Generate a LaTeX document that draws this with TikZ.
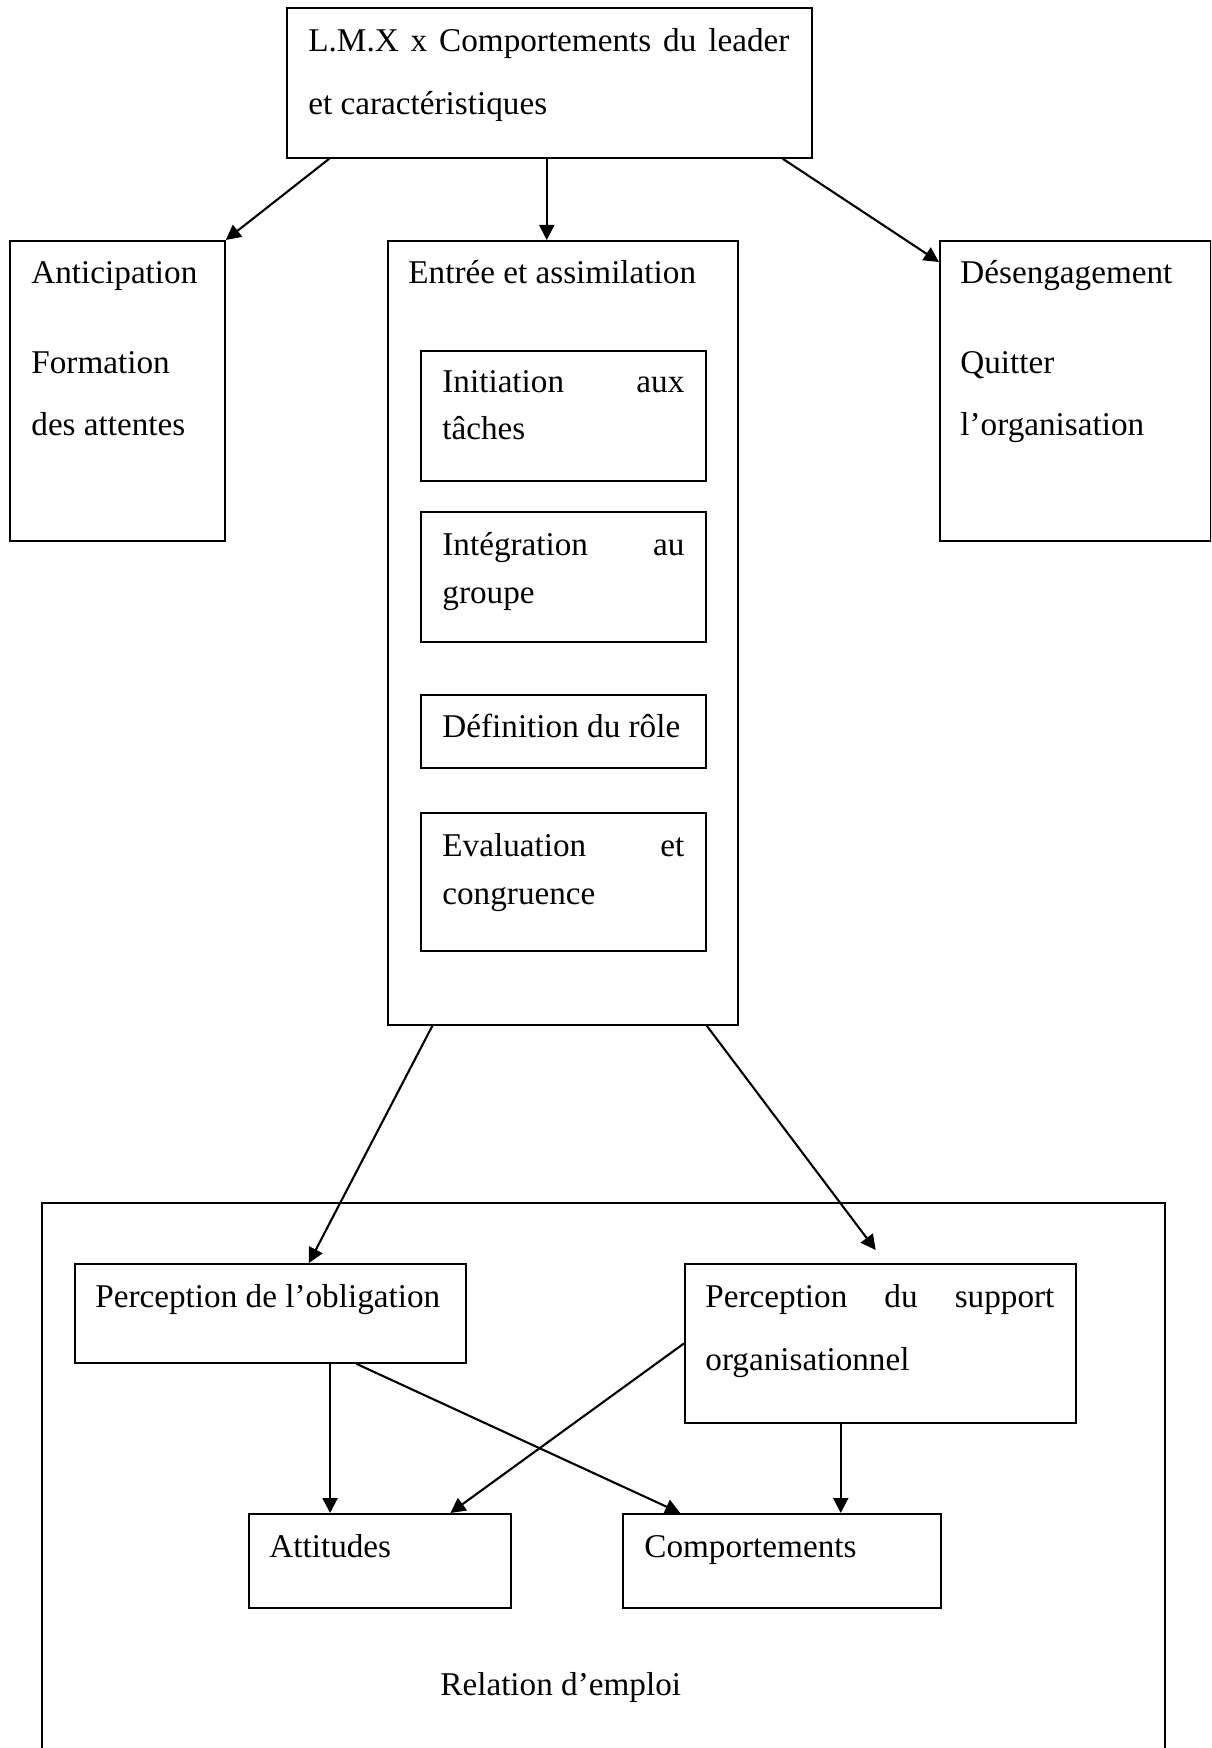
\documentclass[tikz,border=0pt]{standalone}
\usepackage{fontspec}
\setmainfont{Liberation Serif}
\usetikzlibrary{arrows.meta,calc}
\tikzset{
  box/.style={draw, line width=0.9pt, rectangle, inner sep=0pt, anchor=north west},
  lbl/.style={anchor=base west, inner sep=0pt},
  arr/.style={line width=1.05pt, -{Triangle[length=7.5pt,width=7.5pt]}}
}
\begin{document}
\begin{tikzpicture}[x=0.5pt,y=-0.5pt,font=\fontsize{16.6pt}{20pt}\selectfont]
\useasboundingbox (0,0) rectangle (1211,1748);
\clip (0,0) rectangle (1211,1748);
\fill[white] (0,0) rectangle (1211,1748);
% boxes
\node[box, minimum width=262.5pt, minimum height=75pt] (top) at (286,7) {};
\node[box, minimum width=107.5pt, minimum height=150pt] (antic) at (9,240) {};
\node[box, minimum width=175pt, minimum height=392pt] (entree) at (387,240) {};
\node[box, minimum width=142.5pt, minimum height=65pt] (init) at (420,350) {};
\node[box, minimum width=142.5pt, minimum height=65pt] (integ) at (420,511) {};
\node[box, minimum width=142.5pt, minimum height=36.5pt] (defin) at (420,694) {};
\node[box, minimum width=142.5pt, minimum height=69pt] (evalu) at (420,812) {};
\node[box, minimum width=135.5pt, minimum height=150pt] (deseng) at (939,240) {};
\node[box, minimum width=561.5pt, minimum height=290pt] (outer) at (41,1202) {};
\node[box, minimum width=195.5pt, minimum height=49.5pt] (obl) at (74,1263) {};
\node[box, minimum width=195.5pt, minimum height=79.5pt] (supp) at (684,1263) {};
\node[box, minimum width=131pt, minimum height=47pt] (att) at (248,1513) {};
\node[box, minimum width=159pt, minimum height=47pt] (comp) at (622,1513) {};
% texts
\node[lbl] (t1) at (308,52) {\hbox to 240.5pt{L.M.X\hfill x\hfill Comportements\hfill du\hfill leader}};
\node[lbl] (t2) at (308,115) {et caractéristiques};
\node[lbl] (a1) at (31,284) {Anticipation};
\node[lbl] (a2) at (31,374) {Formation};
\node[lbl] (a3) at (31,436) {des attentes};
\node[lbl] (e1) at (408,284) {Entrée et assimilation};
\node[lbl] (i1) at (442,393) {\hbox to 121pt{Initiation\hfill aux}};
\node[lbl] (i2) at (442,440) {tâches};
\node[lbl] (g1) at (442,555) {\hbox to 121pt{Intégration\hfill au}};
\node[lbl] (g2) at (442,603) {groupe};
\node[lbl] (d1) at (442,737) {Définition du rôle};
\node[lbl] (v1) at (442,856) {\hbox to 121pt{Evaluation\hfill et}};
\node[lbl] (v2) at (442,904) {congruence};
\node[lbl] (s1) at (960,284) {Désengagement};
\node[lbl] (s2) at (960,374) {Quitter};
\node[lbl] (s3) at (960,436) {l’organisation};
\node[lbl] (o1) at (95,1307) {Perception de l’obligation};
\node[lbl] (p1) at (705,1307) {\hbox to 174.5pt{Perception\hfill du\hfill support}};
\node[lbl] (p2) at (705,1370) {organisationnel};
\node[lbl] (at1) at (269,1557) {Attitudes};
\node[lbl] (c1) at (644,1557) {Comportements};
\node[lbl] (r1) at (440,1695) {Relation d’emploi};
% connectors
\draw[arr] ($(top.south west)!0.082!(top.south east)$) -- (antic.north east);
\coordinate (tm) at ($(top.south west)!0.495!(top.south east)$);
\draw[arr] (tm) -- (tm |- entree.north);
\draw[arr] ($(top.south west)!0.943!(top.south east)$) -- ($(deseng.north west)!0.073!(deseng.south west)$);
\draw[arr] ($(entree.south west)!0.129!(entree.south east)$) -- ($(obl.north west)!0.598!(obl.north east)$);
\coordinate (suppin) at ($(supp.north west)!0.488!(supp.north east) + (0,-13)$);
\draw[arr] ($(entree.south west)!0.909!(entree.south east)$) -- (suppin);
\coordinate (om) at ($(obl.south west)!0.652!(obl.south east)$);
\draw[arr] (om) -- (om |- att.north);
\draw[arr] ($(obl.south west)!0.719!(obl.south east)$) -- ($(comp.north west)!0.182!(comp.north east)$);
\draw[arr] (supp.west) -- ($(att.north west)!0.767!(att.north east)$);
\coordinate (sm) at ($(supp.south west)!0.399!(supp.south east)$);
\draw[arr] (sm) -- (sm |- comp.north);
\end{tikzpicture}
\end{document}
